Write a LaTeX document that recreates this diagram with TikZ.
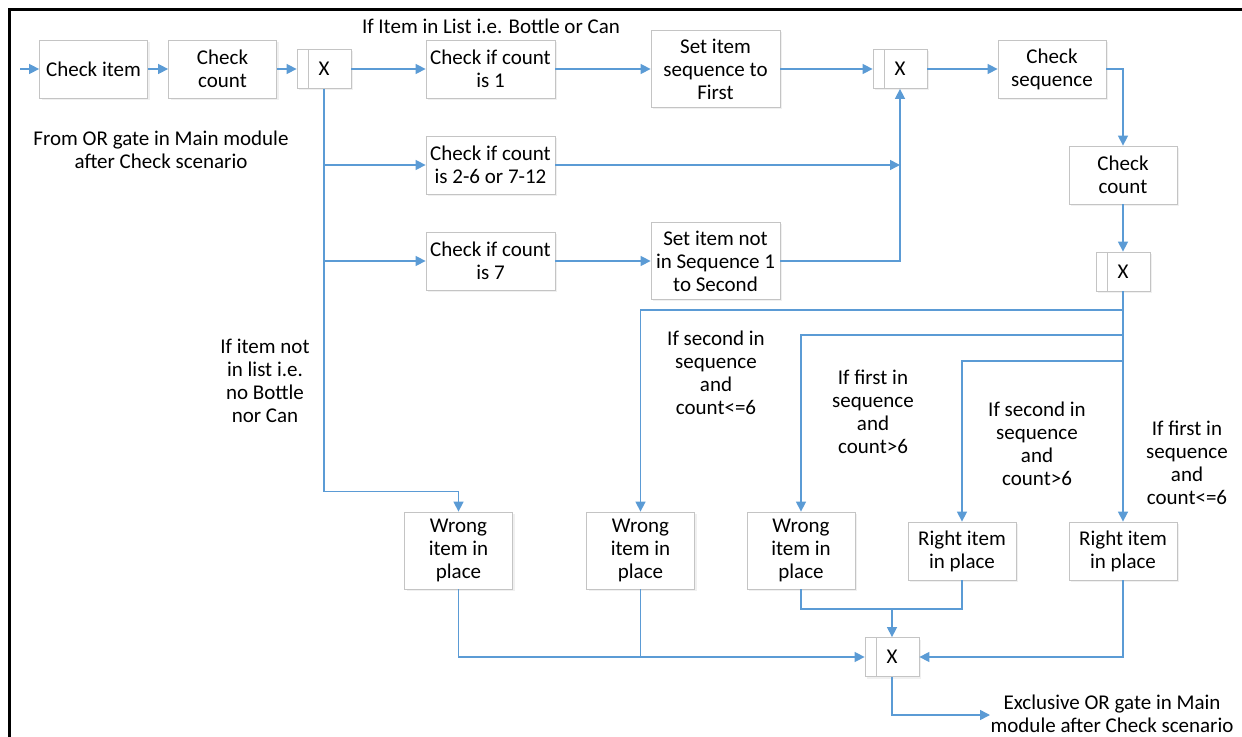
\documentclass[tikz,border=0pt]{standalone}
\usepackage{fontspec}
\setmainfont{Carlito}
\usepackage{tikz}
\usetikzlibrary{arrows.meta}
\usetikzlibrary{shadows}
\usepackage{color}

\definecolor{flowblue}{HTML}{5B9BD5}
\definecolor{boxgray}{HTML}{C4C4C4}

\tikzset{
  task/.style={draw=boxgray, fill=white, align=center, inner sep=0pt,
    minimum width=54pt, minimum height=29pt,
    drop shadow={shadow xshift=1pt, shadow yshift=-1pt, opacity=0.12}},
  widetask/.style={task, minimum width=64.5pt},
  tall/.style={minimum height=38.5pt},
  gate/.style={task, minimum width=27pt, minimum height=19.5pt,
    path picture={\draw[boxgray] ([xshift=5.5pt]path picture bounding box.north west)
      -- ([xshift=5.5pt]path picture bounding box.south west);}},
  note/.style={align=center, inner sep=0pt},
  flow/.style={draw=flowblue, line width=0.75pt, -{Triangle[length=5pt,width=5pt]}},
  link/.style={draw=flowblue, line width=0.75pt}
}

\begin{document}
\begin{tikzpicture}[x=0.5pt, y=-0.5pt, font=\fontsize{10.5}{11.5}\selectfont]
        \useasboundingbox (0,0) rectangle (1242,737);
        \draw[line width=1.5pt] (9,737) -- (9,10) -- (1242,10);

        % top row
        \coordinate (in) at (20,69);
        \node[task] (ci) at (93.5,69) {Check item};
        \node[task] (cc) at (222.5,69) {Check\\count};
        \node[gate] (g1) at (324,69) {X};
        \node[widetask] (c1) at (490.5,69) {Check if count\\is 1};
        \node[widetask,tall] (sf) at (715.5,69) {Set item\\sequence to\\First};
        \node[gate] (g2) at (900,69) {X};
        \node[task] (cs) at (1052,69) {Check\\sequence};
        \node[task] (cc2) at (1123,175) {Check\\count};
        \node[gate] (g3) at (1123,271.5) {X};

        % other counts
        \node[widetask] (c26) at (490.5,165) {Check if count\\is 2-6 or 7-12};
        \node[widetask] (c7) at (490.5,261) {Check if count\\is 7};
        \node[widetask,tall] (ss) at (715.5,261) {Set item not\\in Sequence 1\\to Second};

        % results
        \node[task,tall] (w1) at (458.5,550.5) {Wrong\\item in\\place};
        \node[task,tall] (w2) at (640.5,550.5) {Wrong\\item in\\place};
        \node[task,tall] (w3) at (801,550.5) {Wrong\\item in\\place};
        \node[task] (r1) at (962,551) {Right item\\in place};
        \node[task] (r2) at (1123,551) {Right item\\in place};
        \node[gate] (g4) at (892,657) {X};
        \coordinate (out) at (990,715);

        % texts
        \node[note] at (491,26) {If Item in List i.e. Bottle or Can};
        \node[note] at (161,150) {From OR gate in Main module\\after Check scenario};
        \node[note] at (265,381) {If item not\\in list i.e.\\no Bottle\\nor Can};
        \node[note] at (716,373) {If second in\\sequence\\and\\count<=6};
        \node[note] at (873,412) {If first in\\sequence\\and\\count>6};
        \node[note] at (1037,444) {If second in\\sequence\\and\\count>6};
        \node[note] at (1187,463) {If first in\\sequence\\and\\count<=6};
        \node[note] at (1112,714) {Exclusive OR gate in Main\\module after Check scenario};

        % connectors
        \draw[flow] (in) -- (ci);
        \draw[flow] (ci) -- (cc);
        \draw[flow] (cc) -- (g1);
        \draw[flow] (g1) -- (c1);
        \draw[flow] (c1) -- (sf);
        \draw[flow] (sf) -- (g2);
        \draw[flow] (g2) -- (cs);
        \draw[flow] (cs.east) -| (cc2.north);
        \draw[flow] (cc2) -- (g3);

        \draw[flow] (g1.south) |- ([yshift=10pt]w1.north) -- (w1.north);
        \draw[flow] (g1 |- c26) -- (c26);
        \draw[flow] (g1 |- c7) -- (c7);
        \draw[flow] (c26.east) -- (g2 |- c26);
        \draw[flow] (c7) -- (ss);
        \draw[flow] (ss.east) -| (g2.south);

        \coordinate (j1) at (1123,310);
        \coordinate (j2) at (1123,335);
        \coordinate (j3) at (1123,361);
        \draw[flow] (g3.south) -- (r2.north);
        \draw[flow] (j1) -| (w2.north);
        \draw[flow] (j2) -| (w3.north);
        \draw[flow] (j3) -| (r1.north);

        \coordinate (m) at (892,609);
        \draw[flow] (w1.south) |- (g4.west);
        \draw[link] (w2.south) -- (w2 |- g4);
        \draw[link] (w3.south) |- (m) -| (r1.south);
        \draw[flow] (m) -- (g4.north);
        \draw[flow] (r2.south) |- (g4.east);
        \draw[flow] (g4.south) |- (out);
\end{tikzpicture}
\end{document}
